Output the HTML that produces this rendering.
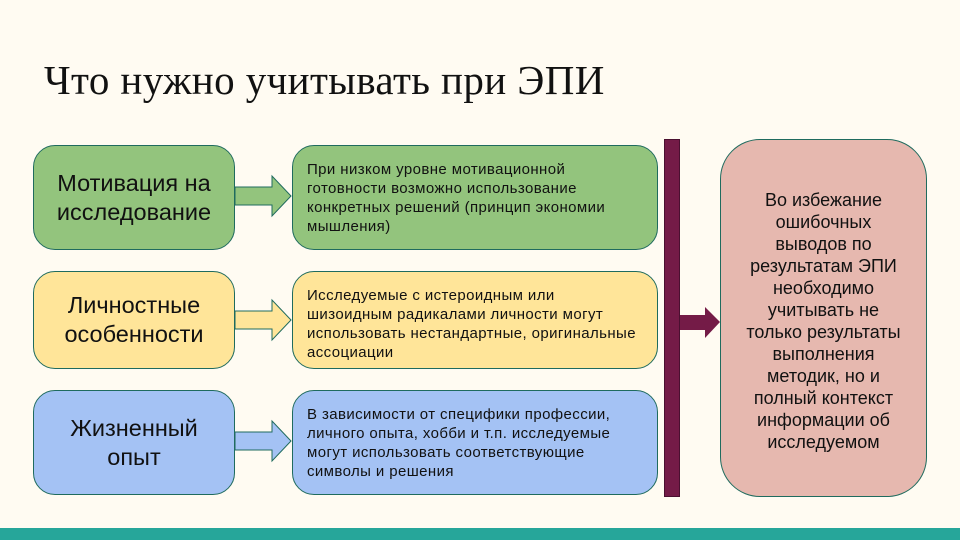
<!DOCTYPE html>
<html><head><meta charset="utf-8"><style>
*{margin:0;padding:0;box-sizing:border-box}
body{width:960px;height:540px;background:#fffbf2;position:relative;overflow:hidden;font-family:"Liberation Sans",sans-serif;color:#111}
.t{position:absolute;left:44px;top:56px;font-family:"Liberation Serif",serif;font-size:41px;letter-spacing:0.4px;white-space:nowrap}
.b{position:absolute;border:1.5px solid #1f6b5e;border-radius:22px;display:flex;align-items:center}
.l{left:33px;width:202px;justify-content:center;text-align:center;font-size:23.5px;line-height:29px}
.m{left:292px;width:366px;font-size:15px;letter-spacing:0.4px;line-height:19px;padding:0 14px;align-items:flex-start;padding-top:14px;white-space:nowrap}
.g{background:#93c47d}.y{background:#ffe599}.u{background:#a4c2f4}
.bar{position:absolute;left:664px;top:139px;width:16px;height:358px;background:#741b47;border:1px solid #4a1030}
.r{position:absolute;left:720px;top:139px;width:207px;height:358px;background:#e6b8af;border:1.5px solid #1f6b5e;border-radius:40px;text-align:center;font-size:18px;line-height:22px;padding-top:49px}
.foot{position:absolute;left:0;top:528px;width:960px;height:12px;background:#26a69a}
svg{position:absolute;left:0;top:0}
</style></head><body>
<div class="t">Что нужно учитывать при ЭПИ</div>
<div class="b l g" style="top:145px;height:105px">Мотивация на<br>исследование</div>
<div class="b l y" style="top:271px;height:98px">Личностные<br>особенности</div>
<div class="b l u" style="top:390px;height:105px">Жизненный<br>опыт</div>
<div class="b m g" style="top:145px;height:105px">При низком уровне мотивационной<br>готовности возможно использование<br>конкретных решений (принцип экономии<br>мышления)</div>
<div class="b m y" style="top:271px;height:98px;padding-top:14px">Исследуемые с истероидным или<br>шизоидным радикалами личности могут<br>использовать нестандартные, оригинальные<br>ассоциации</div>
<div class="b m u" style="top:390px;height:105px">В зависимости от специфики профессии,<br>личного опыта, хобби и т.п. исследуемые<br>могут использовать соответствующие<br>символы и решения</div>
<svg width="960" height="540">
<polygon points="235,187 272,187 272,176 291,196 272,216 272,205 235,205" fill="#93c47d" stroke="#1f6b5e" stroke-width="1"/>
<polygon points="235,311 272,311 272,300 291,320 272,340 272,329 235,329" fill="#ffe599" stroke="#1f6b5e" stroke-width="1"/>
<polygon points="235,432 272,432 272,421 291,441 272,461 272,450 235,450" fill="#a4c2f4" stroke="#1f6b5e" stroke-width="1"/>
<polygon points="680,315 705,315 705,307 720,322 705,338 705,330 680,330" fill="#741b47"/>
</svg>
<div class="bar"></div>
<div class="r">Во избежание<br>ошибочных<br>выводов по<br>результатам ЭПИ<br>необходимо<br>учитывать не<br>только результаты<br>выполнения<br>методик, но и<br>полный контекст<br>информации об<br>исследуемом</div>
<div class="foot"></div>
</body></html>
